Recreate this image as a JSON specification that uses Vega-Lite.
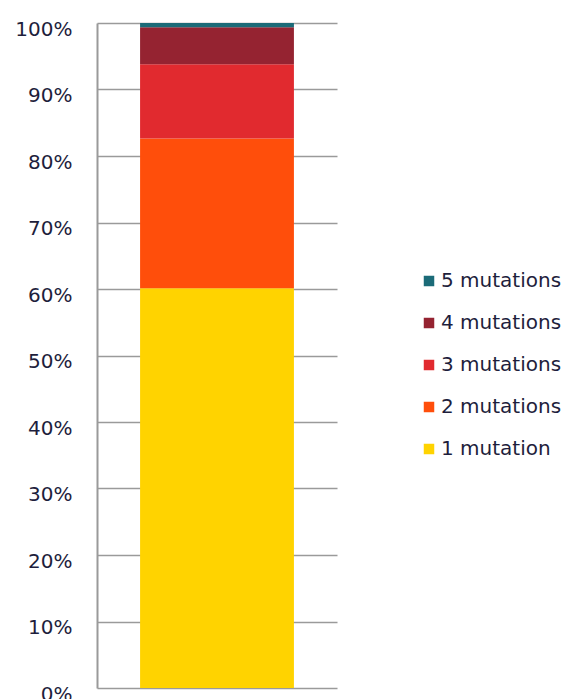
{
  "$schema": "https://vega.github.io/schema/vega-lite/v6.json",
  "width": 240,
  "height": 665,
  "autosize": {"type": "none"},
  "padding": {"left": 97, "top": 23, "right": 228, "bottom": 11},
  "background": "white",
  "data": {
    "values": [
      {"group": "A", "category": "1 mutation", "rank": 1, "share": 60.1},
      {"group": "A", "category": "2 mutations", "rank": 2, "share": 22.55},
      {"group": "A", "category": "3 mutations", "rank": 3, "share": 11.15},
      {"group": "A", "category": "4 mutations", "rank": 4, "share": 5.55},
      {"group": "A", "category": "5 mutations", "rank": 5, "share": 0.65}
    ]
  },
  "config": {
    "view": {"stroke": null},
    "font": "DejaVu Sans"
  },
  "mark": {"type": "bar"},
  "encoding": {
    "x": {
      "field": "group",
      "type": "nominal",
      "axis": null,
      "scale": {"paddingInner": 0, "paddingOuter": 0.28}
    },
    "y": {
      "field": "share",
      "type": "quantitative",
      "stack": "zero",
      "scale": {"domain": [0, 100], "nice": false},
      "axis": {
        "title": null,
        "values": [0, 10, 20, 30, 40, 50, 60, 70, 80, 90, 100],
        "labelExpr": "datum.value + '%'",
        "labelFontSize": 20,
        "labelColor": "#1e1e3c",
        "labelPadding": 25,
        "labelOffset": 6,
        "ticks": false,
        "domainColor": "#9a9a9a",
        "domainWidth": 2,
        "grid": true,
        "gridColor": "#9a9a9a",
        "gridWidth": 1.5,
        "labelFont": "DejaVu Sans"
      }
    },
    "order": {"field": "rank", "type": "quantitative", "sort": "ascending"},
    "color": {
      "field": "category",
      "type": "nominal",
      "scale": {
        "domain": ["5 mutations", "4 mutations", "3 mutations", "2 mutations", "1 mutation"],
        "range": ["#1b6b78", "#952331", "#e12a2f", "#ff4e0b", "#ffd300"]
      },
      "legend": {
        "title": null,
        "orient": "none",
        "legendX": 322,
        "legendY": 248,
        "symbolType": "square",
        "symbolSize": 110,
        "symbolStrokeWidth": 0,
        "labelFontSize": 20,
        "labelColor": "#1e1e3c",
        "labelFont": "DejaVu Sans",
        "rowPadding": 22,
        "labelOffset": 2,
        "labelBaseline": "middle"
      }
    }
  }
}
